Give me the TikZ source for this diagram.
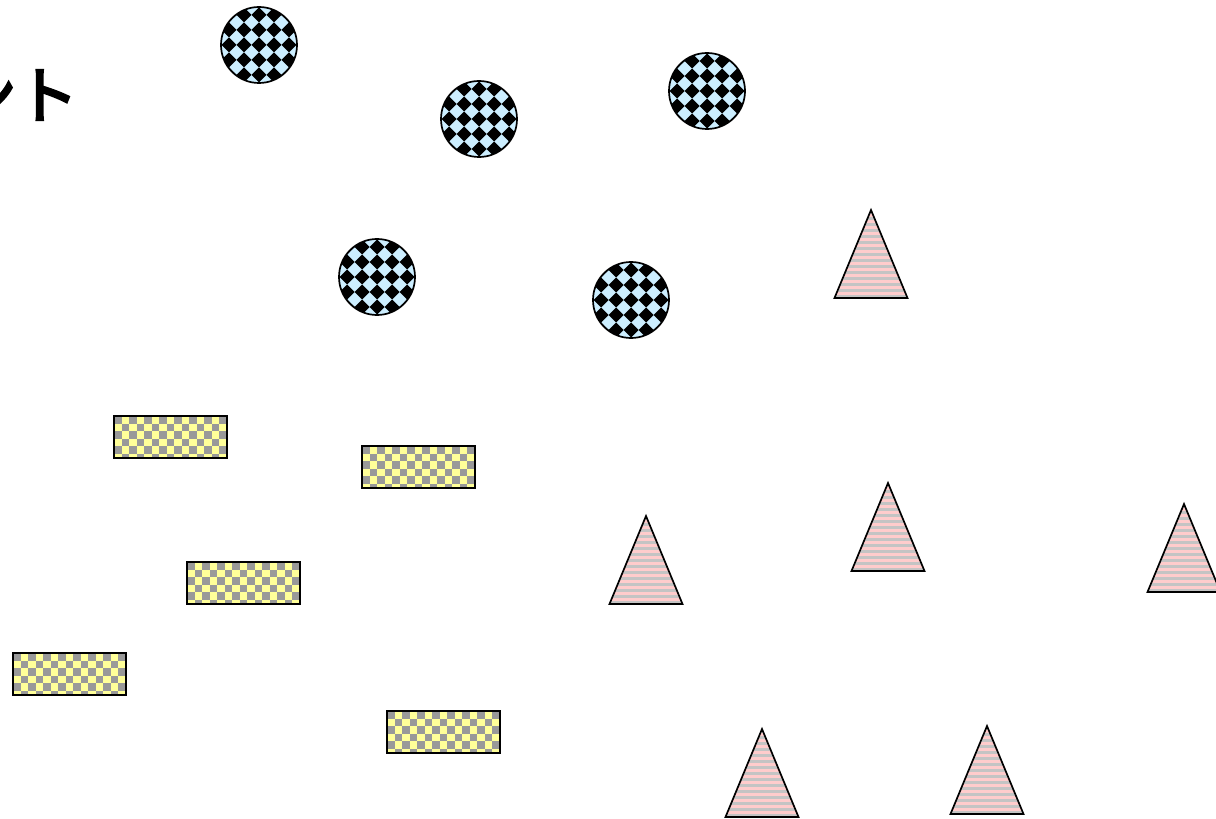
\documentclass[tikz,border=0pt]{standalone}
\usepackage{fontspec}
\newfontfamily\jpfont{Noto Sans CJK JP}[FakeBold=4]
\definecolor{ballblue}{HTML}{CCEEFF}
\definecolor{brickyellow}{HTML}{FFFF99}
\definecolor{brickgray}{HTML}{999999}
\definecolor{conepink}{HTML}{FFCCCC}
\definecolor{conegray}{HTML}{C4C4C4}

\tikzset{
  ball/.style={circle, draw, line width=1.2pt, fill=ballblue, minimum size=1.9cm, inner sep=0, outer sep=0,
    path picture={
      \foreach \i in {-3,...,3}
        \foreach \j in {-3,...,3}
          \fill[black, shift={(path picture bounding box.center)}] ({\i*15-7.5},{\j*15}) -- ++(7.5,7.5) -- ++(7.5,-7.5) -- ++(-7.5,-7.5) -- cycle;
    }},
  brick/.style={rectangle, draw, line width=1.2pt, fill=brickyellow, minimum width=2.825cm, minimum height=1.05cm, inner sep=0, outer sep=0,
    path picture={
      \foreach \i [evaluate=\i as \sh using {int(mod(\i,2))}] in {0,...,15}
        \foreach \j in {0,2,4}
          \fill[brickgray, shift={(path picture bounding box.center)}] ({\i*7.5-56.5},{(\j+\sh)*7.5-21}) rectangle ++(7.5,7.5);
    }},
  cone/.pic={
    \begin{scope}
      \clip (-36.5,0) -- (0,-88) -- (36.5,0) -- cycle;
      \fill[conepink] (-40,2) rectangle (40,-90);
      \foreach \k in {0,...,14}
        \fill[conegray] (-40,{-\k*6}) rectangle (40,{-\k*6-3});
    \end{scope}
    \draw[line width=1.2pt, line join=miter] (-36.5,0) -- (0,-88) -- (36.5,0) -- cycle;
  }
}

\begin{document}
\begin{tikzpicture}[x=0.025cm, y=-0.025cm]
  \useasboundingbox (0,0) rectangle (1216,819);

  \node[anchor=east, inner sep=0] (title) at (78.5,95) {\jpfont\fontsize{44}{52}\selectfont ント};

  % circles
  \node[ball] (ball1) at (259,45) {};
  \node[ball] (ball2) at (479,119) {};
  \node[ball] (ball3) at (707,91) {};
  \node[ball] (ball4) at (377,277) {};
  \node[ball] (ball5) at (631,300) {};

  % rectangles
  \node[brick] (brick1) at (170.5,437) {};
  \node[brick] (brick2) at (418.5,467) {};
  \node[brick] (brick3) at (243.5,583) {};
  \node[brick] (brick4) at (69.5,674) {};
  \node[brick] (brick5) at (443.5,732) {};

  % triangles
  \pic (cone1) at (871,298) {cone};
  \pic (cone2) at (646,604) {cone};
  \pic (cone3) at (888,571) {cone};
  \pic (cone4) at (1184,592) {cone};
  \pic (cone5) at (762,817) {cone};
  \pic (cone6) at (987,814) {cone};
\end{tikzpicture}
\end{document}
